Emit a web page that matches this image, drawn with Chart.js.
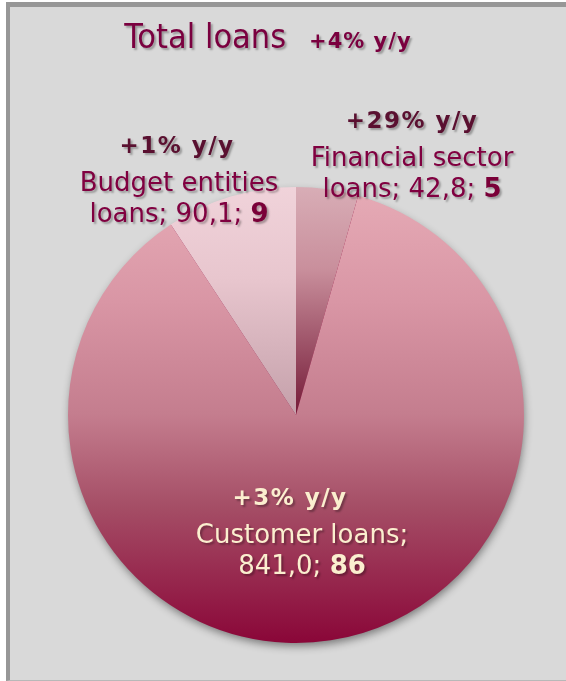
<!DOCTYPE html>
<html>
<head>
<meta charset="utf-8">
<script src="https://cdn.jsdelivr.net/npm/chart.js@4.4.1/dist/chart.umd.min.js"></script>
<style>
  html, body { margin: 0; padding: 0; background: #ffffff; }
  .quadro {
    position: absolute; left: 6px; top: 2px;
    width: 556px; height: 673px;
    background: #d9d9d9;
    border-left: 4px solid #979797;
    border-top: 5px solid #979797;
    border-bottom: 1px solid #b8b8b8;
  }
  canvas { display: block; }
</style>
</head>
<body>
<div class="quadro"><canvas id="graficoEmprestimos" width="556" height="673"></canvas></div>
<script>
const categorias = ['Financial sector loans', 'Customer loans', 'Budget entities loans'];
const valores = [42.8, 841.0, 90.1];
const participacao = [5, 86, 9];
const crescimento = ['+29% y/y', '+3% y/y', '+1% y/y'];
const tituloTexto = 'Total loans';
const tituloCrescimento = '+4% y/y';

// linhas do rótulo de cada fatia (a última recebe valor e participação)
const linhasNome = [['Financial sector', 'loans;'], ['Customer loans;', ''], ['Budget entities', 'loans;']];

// posição de cada rótulo em relação ao centro da pizza
const posRotulos = [
  { dx: 116, dy: -287, dxLinhas: 116 },
  { dx: -6, dy: 90, dxLinhas: 6 },
  { dx: -119, dy: -262, dxLinhas: -117 }
];
const estiloRotulos = [
  { cresc: '#5a1030', texto: '#800040', destaque: '#7a0038' },
  { cresc: '#fbefcf', texto: '#fbefcf', destaque: '#fbefcf' },
  { cresc: '#5a1030', texto: '#800040', destaque: '#7a0038' }
];

const FONTE = '"DejaVu Sans", Verdana, sans-serif';

function formatarValor(v) { return v.toFixed(1).replace('.', ','); }

function gradiente(chart, paradas) {
  const area = chart.chartArea;
  if (!area) return paradas[0][1];
  const g = chart.ctx.createLinearGradient(0, area.top, 0, area.bottom);
  paradas.forEach(p => g.addColorStop(p[0], p[1]));
  return g;
}

const coresFatias = [
  [[0, '#d8adb6'], [0.18, '#c98f9c'], [0.5, '#741a37'], [1, '#741a37']],
  [[0, '#e6abb6'], [0.25, '#d996a5'], [0.5, '#c47d8e'], [0.7, '#a54e66'], [1, '#8a0638']],
  [[0, '#f0d3da'], [0.2, '#e8c6ce'], [0.5, '#c4a0aa'], [1, '#c4a0aa']]
];

function desenharRuns(ctx, runs, cx, y) {
  let total = 0;
  runs.forEach(r => {
    ctx.font = r.font;
    ctx.letterSpacing = r.espaco || '0px';
    r.w = ctx.measureText(r.text).width;
    total += r.w;
  });
  let x = cx - total / 2;
  runs.forEach(r => {
    ctx.font = r.font;
    ctx.letterSpacing = r.espaco || '0px';
    ctx.fillStyle = r.color;
    ctx.fillText(r.text, x, y);
    x += r.w;
  });
  ctx.letterSpacing = '0px';
}

const sombraPizza = {
  id: 'sombraPizza',
  beforeDatasetsDraw(chart) {
    const arco = chart.getDatasetMeta(0).data[0];
    if (!arco) return;
    const ctx = chart.ctx;
    ctx.save();
    ctx.shadowColor = 'rgba(0,0,0,0.45)';
    ctx.shadowBlur = 8;
    ctx.shadowOffsetX = 1;
    ctx.shadowOffsetY = 4;
    ctx.fillStyle = '#8a0638';
    ctx.beginPath();
    ctx.arc(arco.x, arco.y, arco.outerRadius - 1, 0, Math.PI * 2);
    ctx.fill();
    ctx.restore();
  }
};

const rotulos = {
  id: 'rotulos',
  afterDatasetsDraw(chart) {
    const ctx = chart.ctx;
    const arcos = chart.getDatasetMeta(0).data;
    const cx = arcos[0].x, cy = arcos[0].y;
    ctx.save();
    ctx.textAlign = 'left';
    ctx.textBaseline = 'alphabetic';
    ctx.shadowColor = 'rgba(0,0,0,0.3)';
    ctx.shadowBlur = 2;
    ctx.shadowOffsetX = 2;
    ctx.shadowOffsetY = 2;

    // título
    desenharRuns(ctx, [
      { text: tituloTexto, font: '34px "DejaVu Sans Condensed", ' + FONTE, color: '#7a003f' },
      { text: '  ', font: '36px ' + FONTE, color: '#7a003f' },
      { text: tituloCrescimento, font: 'bold 21px ' + FONTE, color: '#7a003f', espaco: '1px' }
    ], 258, 41);

    categorias.forEach((cat, i) => {
      const p = posRotulos[i], e = estiloRotulos[i];
      const bx = cx + p.dx, by = cy + p.dy;
      desenharRuns(ctx, [{ text: crescimento[i], font: 'bold 23px ' + FONTE, color: e.cresc, espaco: '1.5px' }], bx, by);
      const linhas = linhasNome[i];
      const lx = cx + p.dxLinhas;
      desenharRuns(ctx, [{ text: linhas[0], font: '26px ' + FONTE, color: e.texto }], lx, by + 38);
      const pre = (linhas[1] ? linhas[1] + ' ' : '') + formatarValor(valores[i]) + '; ';
      desenharRuns(ctx, [
        { text: pre, font: '26px ' + FONTE, color: e.texto },
        { text: String(participacao[i]), font: 'bold 26px ' + FONTE, color: e.destaque }
      ], lx, by + 69);
    });
    ctx.restore();
  }
};

new Chart(document.getElementById('graficoEmprestimos'), {
  type: 'pie',
  data: {
    labels: categorias,
    datasets: [{
      data: valores,
      backgroundColor: (c) => gradiente(c.chart, coresFatias[c.dataIndex]),
      borderWidth: 0
    }]
  },
  options: {
    responsive: false,
    animation: false,
    devicePixelRatio: 1,
    layout: { padding: { left: 58, right: 42, top: 180, bottom: 37 } },
    plugins: { legend: { display: false }, tooltip: { enabled: false }, title: { display: false } }
  },
  plugins: [sombraPizza, rotulos]
});
</script>
</body>
</html>
